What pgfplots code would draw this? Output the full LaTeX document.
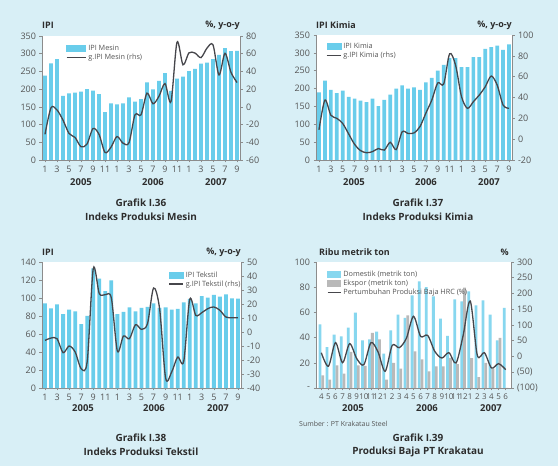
\documentclass[border=0pt]{standalone}
\usepackage{fontspec}
\setmainfont{Open Sans}
\usepackage{pgfplots}
\usepackage{pgfplotstable}
\pgfplotsset{compat=1.18}
\definecolor{bg}{RGB}{216,239,246}
\definecolor{cyanbar}{RGB}{105,205,235}
\definecolor{linecol}{RGB}{70,70,75}
\definecolor{graybar}{RGB}{185,185,185}
\definecolor{axiscol}{RGB}{140,140,140}
\definecolor{textgray}{RGB}{85,85,85}
\definecolor{titlecol}{RGB}{45,45,45}

\pgfplotstableread{
i bar line
0 238 -31
1 273 -1
2 285 -3.5
3 181 -15
4 188 -30
5 190 -34.5
6 193 -45
7 200 -42
8 196 -24.5
9 186 -31
10 135 -51.5
11 160 -45.5
12 157 -33.5
13 160 -41
14 177 -40.5
15 165 -9
16 172 -9
17 219 15.5
18 199 3.5
19 223 12
20 245 26.3
21 195 6
22 230 73
23 235 47.5
24 251 61
25 257 60.7
26 272 55.6
27 275 66.3
28 285 70
29 297 36
30 316 60.5
31 307 39
32 308 27.5
}\mesin

\pgfplotstableread{
i bar line
0 189 9
1 222 37.5
2 196 23
3 187 20
4 194 15
5 177 5
6 172 -5
7 166 -11
8 162 -13
9 172 -12
10 151 -9
11 168 -10.5
12 183 -3
13 200 -10
14 209 7
15 200 5.5
16 203 6
17 196 12
18 217 25
19 230 37.6
20 250 54
21 266 53
22 285 82
23 285 71
24 260 40.8
25 260 29.6
26 288 36
27 288 42.4
28 311 50.4
29 316 60.6
30 320 52
31 308 32.8
32 324 29.6
}\kimia

\pgfplotstableread{
i bar line
0 94 -6
1 88.5 -4.3
2 93 -4.8
3 82 -14.8
4 87 -10
5 85 -14.3
6 71 -26.2
7 80 -21
8 133 45.2
9 121.5 27.4
10 107.5 26.7
11 119.5 24.3
12 82 -13.6
13 84.5 -2.9
14 89.5 -4.8
15 85 5.2
16 89 1.9
17 90 6
18 94 31.4
19 89 16.7
20 89.5 -32.9
21 87 -28.6
22 88 -17.9
23 95 -21
24 99 23.3
25 94 11.9
26 102 13.8
27 100.5 16.7
28 103.5 17.9
29 101.5 15.5
30 104 10.7
31 99.5 10.2
32 99.3 10.2
}\tekstil

\pgfplotstableread{
i dom exp line
0 50.5 10 12
1 32.5 6.6 -31
2 42.3 18 44
3 41 11.4 -19.6
4 48 28.6 40.7
5 59.8 18 -7
6 37.8 17.5 -26
7 38.6 43.7 44
8 44.7 38.6 14.3
9 27.2 6.6 -47
10 45.8 20 35.4
11 58.2 15.3 28
12 55.6 57.7 58
13 73.5 29 127.5
14 84.7 22.8 64
15 80 13.2 67
16 72.8 17.2 16.4
17 55 17.2 -4.8
18 41.3 24 12.2
19 70.4 19 -20.6
20 68.8 79.6 67
21 76.7 23.8 176
22 65.6 8.7 3.7
23 69.6 20 12.2
24 58.2 15.3 -36.5
25 37.8 39.7 -22.7
26 63.5 0 -41.8
}\baja

\pgfplotsset{
  base/.style={scale only axis, anchor=south west,
    axis line style={axiscol, line width=0.6bp},
    tick style={axiscol, line width=0.5bp},
    tick align=outside, major tick length=2.5bp,
    tick label style={font=\fontsize{9}{10}\selectfont, text=textgray},
    /pgf/number format/assume math mode=true,
    clip=false},
  leftax/.style={base, axis y line*=left, axis x line*=bottom,
    axis background/.style={fill=white}},
  rightax/.style={base, axis y line*=right, axis x line=none,
    legend style={draw=none, fill=none, font=\fontsize{7.3}{8}\selectfont, text=textgray,
      anchor=north west, row sep=0pt,
      nodes={inner sep=0.6bp, text height=6bp, text depth=1.8bp},
      /tikz/every odd column/.append style={column sep=1.5bp}},
    legend cell align=left},
  monthax/.style={xmin=-0.5, xmax=32.5, xtick={0,2,...,32},
    xticklabels={1,3,5,7,9,11,1,3,5,7,9,11,1,3,5,7,9}},
}
\newcommand{\barleg}[2]{\addlegendimage{legend image code/.code={\fill[#1] (0bp,-3bp) rectangle (#2,3bp);}}}
\newcommand{\lineleg}[1]{\addlegendimage{legend image code/.code={\draw[linecol, line width=1.3bp] (0bp,0bp) -- (#1,0bp);}}}

\begin{document}
\begin{tikzpicture}
\fill[bg] (0bp,0bp) rectangle (558bp,466bp);

% ---------- Panel 1 ----------
\begin{axis}[leftax, monthax, at={(42bp,306bp)}, width=198bp, height=124bp,
  ymin=0, ymax=350, ytick={0,50,...,350}]
\addplot[ybar, bar width=3.8bp, fill=cyanbar, draw=none] table[x=i, y=bar] {\mesin};
\end{axis}
\begin{axis}[rightax, monthax, at={(42bp,306bp)}, width=198bp, height=124bp,
  ymin=-60, ymax=80, ytick={-60,-40,...,80},
  legend style={at={(0.105,0.955)}}]
\barleg{cyanbar}{19bp}\addlegendentry{IPI Mesin}
\lineleg{19bp}\addlegendentry{g.IPI Mesin (rhs)}
\addplot[linecol, line width=1.3bp, smooth, forget plot] table[x=i, y=line] {\mesin};
\end{axis}

% ---------- Panel 2 ----------
\begin{axis}[leftax, monthax, at={(316bp,306bp)}, width=196bp, height=125bp,
  ymin=0, ymax=350, ytick={0,50,...,350}]
\addplot[ybar, bar width=3.7bp, fill=cyanbar, draw=none] table[x=i, y=bar] {\kimia};
\end{axis}
\begin{axis}[rightax, monthax, at={(316bp,306bp)}, width=196bp, height=125bp,
  ymin=-20, ymax=100, ytick={-20,0,...,100},
  legend style={at={(0.035,0.96)}}]
\barleg{cyanbar}{14bp}\addlegendentry{IPI Kimia}
\lineleg{14bp}\addlegendentry{g.IPI Kimia (rhs)}
\addplot[linecol, line width=1.3bp, smooth, forget plot] table[x=i, y=line] {\kimia};
\end{axis}

% ---------- Panel 3 ----------
\begin{axis}[leftax, monthax, at={(42bp,78bp)}, width=199bp, height=126bp,
  ymin=0, ymax=140, ytick={0,20,...,140}]
\addplot[ybar, bar width=3.8bp, fill=cyanbar, draw=none] table[x=i, y=bar] {\tekstil};
\end{axis}
\begin{axis}[rightax, monthax, at={(42bp,78bp)}, width=199bp, height=126bp,
  ymin=-40, ymax=50, ytick={-40,-30,...,50},
  legend style={at={(0.62,0.95)}}]
\barleg{cyanbar}{14bp}\addlegendentry{IPI Tekstil}
\lineleg{14bp}\addlegendentry{g.IPI Tekstil (rhs)}
\addplot[linecol, line width=1.3bp, smooth, forget plot] table[x=i, y=line] {\tekstil};
\end{axis}

% ---------- Panel 4 ----------
\begin{axis}[leftax, at={(316bp,78bp)}, width=195bp, height=126bp,
  xmin=-0.75, xmax=26.75, xtick={0,...,26},
  xticklabels={4,5,6,7,8,9,10,11,12,1,2,3,4,5,6,7,8,9,10,11,12,1,2,3,4,5,6},
  xticklabel style={font=\fontsize{8}{9}\selectfont},
  ymin=0, ymax=100, ytick={0,20,...,100}, yticklabels={-,20,40,60,80,100}]
\addplot[ybar, bar width=2.8bp, bar shift=-1.4bp, fill=cyanbar!80, draw=none] table[x=i, y=dom] {\baja};
\addplot[ybar, bar width=2.8bp, bar shift=1.4bp, fill=graybar, draw=none] table[x=i, y=exp] {\baja};
\end{axis}
\begin{axis}[rightax, at={(316bp,78bp)}, width=195bp, height=126bp,
  xmin=-0.75, xmax=26.75,
  ymin=-100, ymax=300, ytick={-100,-50,...,300},
  yticklabels={(100),(50),0,50,100,150,200,250,300},
  legend style={at={(0.04,0.955)}}]
\barleg{cyanbar!80}{13bp}\addlegendentry{Domestik (metrik ton)}
\barleg{graybar}{13bp}\addlegendentry{Ekspor (metrik ton)}
\lineleg{13bp}\addlegendentry{Pertumbuhan Produksi Baja HRC (\%)}
\addplot[linecol, line width=1.3bp, smooth, forget plot] table[x=i, y=line] {\baja};
\end{axis}

% ---------- Texts ----------
\begin{scope}[x=1bp, y=1bp]
\begin{scope}[every node/.style={font=\bfseries\fontsize{9}{10}\selectfont, text=titlecol, inner sep=0pt}]
\node[anchor=west] at (42,441) {IPI};
\node[anchor=east] at (240,441) {\%, y-o-y};
\node[anchor=west] at (316,441) {IPI Kimia};
\node[anchor=east] at (512,441) {\%, y-o-y};
\node[anchor=west] at (42,214) {IPI};
\node[anchor=east] at (241,214) {\%, y-o-y};
\node[anchor=west] at (319,214) {Ribu metrik ton};
\node[anchor=east] at (509,214) {\%};
\end{scope}
\begin{scope}[every node/.style={font=\bfseries\fontsize{9.5}{10}\selectfont, text=titlecol, inner sep=0pt}]
\node at (81,284) {2005};
\node at (153,284) {2006};
\node at (216,284) {2007};
\node at (354,284) {2005};
\node at (426,284) {2006};
\node at (489,284) {2007};
\node at (83,58) {2005};
\node at (154,58) {2006};
\node at (218,58) {2007};
\node at (353,58) {2005};
\node at (427,58) {2006};
\node at (491,58) {2007};
\end{scope}
\node[anchor=west, font=\fontsize{7}{8}\selectfont, text=textgray, inner sep=0pt] at (299,42) {Sumber : PT Krakatau Steel};
\begin{scope}[every node/.style={font=\bfseries\fontsize{10}{11}\selectfont, text=titlecol, inner sep=0pt}]
\node at (141,263) {Grafik I.36};
\node at (141,249) {Indeks Produksi Mesin};
\node at (418,263) {Grafik I.37};
\node at (418,249) {Indeks Produksi Kimia};
\node at (141,28) {Grafik I.38};
\node at (141,14) {Indeks Produksi Tekstil};
\node at (418,28) {Grafik I.39};
\node at (418,14) {Produksi Baja PT Krakatau};
\end{scope}
\end{scope}
\end{tikzpicture}
\end{document}
